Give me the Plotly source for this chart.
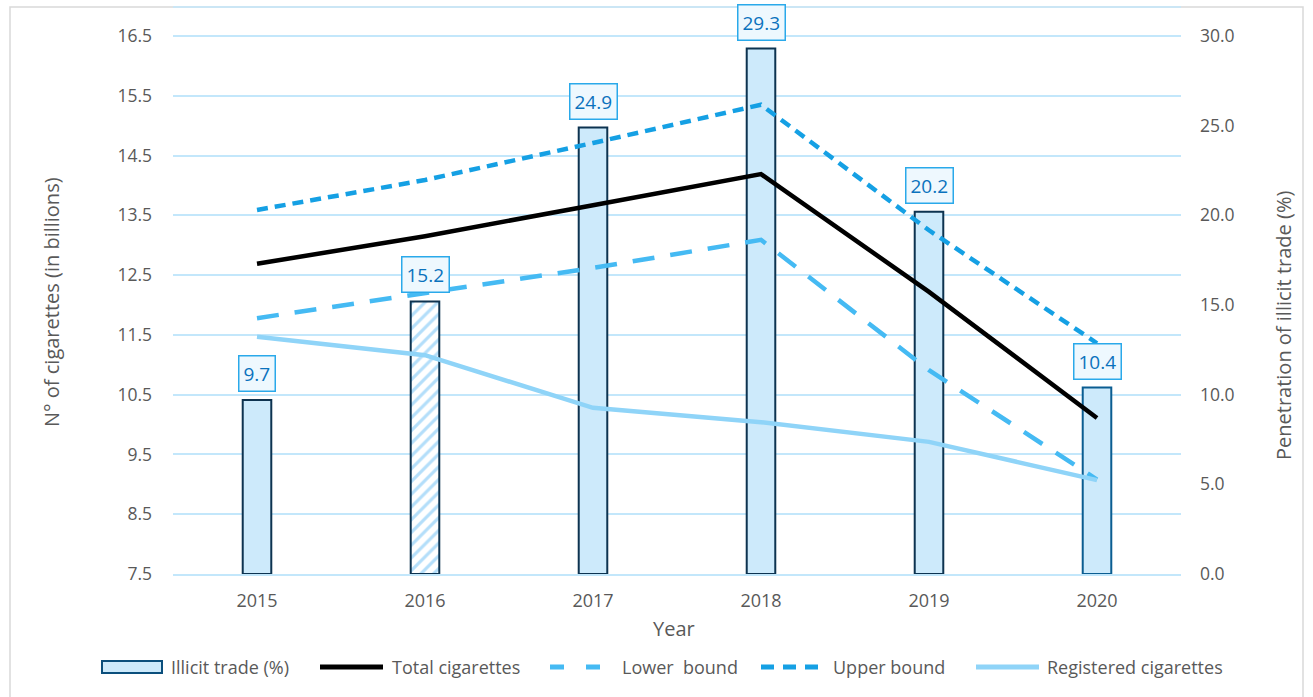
import plotly.graph_objects as go

# Data
years = ["2015", "2016", "2017", "2018", "2019", "2020"]
illicit_pct = [9.7, 15.2, 24.9, 29.3, 20.2, 10.4]
total_cig = [12.69, 13.15, 13.67, 14.19, 12.22, 10.11]
lower_bound = [11.78, 12.20, 12.62, 13.09, 10.91, 9.08]
upper_bound = [13.59, 14.09, 14.71, 15.35, 13.25, 11.36]
registered_cig = [11.47, 11.16, 10.28, 10.04, 9.71, 9.07]
estimated_year = ["2016"]  # bar drawn hatched

left_ticks = [7.5, 8.5, 9.5, 10.5, 11.5, 12.5, 13.5, 14.5, 15.5, 16.5]
right_ticks = [0, 5, 10, 15, 20, 25, 30]

FONT = "Open Sans"
GREY = "#595959"
GRID = "#c3e7fb"
BAR_FILL = "#cdeafb"

# Plot-area geometry in pixels (used for the hand-built legend and titles)
W, H = 1313, 697
L, R, T, B = 173, 132, 7, 123
PW, PH = W - L - R, H - T - B


def px(xp):
    return (xp - L) / PW


def py(yp):
    return (H - B - yp) / PH


fig = go.Figure()

# Illicit-trade bars on the percentage axis (drawn underneath the lines)
solid_vals = [v if y not in estimated_year else None for y, v in zip(years, illicit_pct)]
hatch_vals = [v if y in estimated_year else None for y, v in zip(years, illicit_pct)]
fig.add_trace(go.Bar(
    x=years, y=solid_vals, name="Illicit trade (%)", yaxis="y", width=0.17,
    marker=dict(color=BAR_FILL,
                line=dict(color=["#0d3350"] * 5 + ["#0b5d91"], width=2)),
))
fig.add_trace(go.Bar(
    x=years, y=hatch_vals, name="Illicit trade (%)", yaxis="y", width=0.17,
    marker=dict(color="#b3defa", line=dict(color="#0d3350", width=2),
                pattern=dict(shape="/", bgcolor="#ffffff", size=9, solidity=0.35,
                             fillmode="replace")),
))

line_specs = [
    ("Total cigarettes", total_cig, "#000000", "solid", 4.5),
    ("Lower  bound", lower_bound, "#45baf3", "22px,16px", 4.5),
    ("Upper bound", upper_bound, "#15a0e4", "11px,7px", 4.5),
    ("Registered cigarettes", registered_cig, "#8fd4f8", "solid", 4.5),
]
for name, vals, col, dash, w in line_specs:
    fig.add_trace(go.Scatter(
        x=years, y=vals, name=name, mode="lines", yaxis="y2",
        line=dict(color=col, width=w, dash=dash),
    ))

annotations = []
# Value labels above the bars (category index as x position)
for i, v in enumerate(illicit_pct):
    annotations.append(dict(
        x=i, y=v, xref="x", yref="y", text=f"{v:.1f}", showarrow=False,
        xanchor="center", yanchor="bottom", yshift=8, borderpad=4,
        bordercolor="#2aa9ea", borderwidth=1.5, bgcolor="#eef8fe",
        font=dict(family=FONT, size=19, color="#0a72bd"),
    ))

# Axis titles
annotations.append(dict(x=px(51), y=py(302), xref="paper", yref="paper",
                        xanchor="center", yanchor="middle",
                        text="N° of cigarettes (in billions)", showarrow=False, textangle=-90,
                        font=dict(family=FONT, size=20, color=GREY)))
annotations.append(dict(x=px(1283), y=py(326), xref="paper", yref="paper",
                        xanchor="center", yanchor="middle",
                        text="Penetration of illicit trade (%)", showarrow=False, textangle=-90,
                        font=dict(family=FONT, size=20, color=GREY)))
annotations.append(dict(x=px(674), y=py(628), xref="paper", yref="paper",
                        xanchor="center", yanchor="middle",
                        text="Year", showarrow=False,
                        font=dict(family=FONT, size=20, color=GREY)))

# Legend (symbols + labels) along the bottom
LEG_Y = 667
shapes = [
    dict(type="line", xref="paper", yref="paper", x0=0, x1=1, y0=1, y1=1,
         line=dict(color=GRID, width=1.5)),
    dict(type="rect", xref="paper", yref="paper", x0=px(10), x1=px(1303), y0=py(705), y1=py(7),
         line=dict(color="#d9d9d9", width=1.5), layer="below"),
    dict(type="rect", xref="paper", yref="paper", x0=px(102), x1=px(162),
         y0=py(LEG_Y + 6), y1=py(LEG_Y - 6),
         fillcolor=BAR_FILL, line=dict(color="#0b4f7c", width=2)),
]
legend_items = [
    ("Illicit trade (%)", None, 169),
    ("Total cigarettes", (320, 383, "#000000", "solid", 5), 390),
    ("Lower  bound", (550, 607, "#45baf3", "14px,22px", 5), 620),
    ("Upper bound", (761, 818, "#15a0e4", "13px,9px", 5), 831),
    ("Registered cigarettes", (976, 1039, "#8fd4f8", "solid", 5), 1045),
]
for label, sym, tx in legend_items:
    if sym is not None:
        x0, x1, col, dash, w = sym
        shapes.append(dict(type="line", xref="paper", yref="paper",
                           x0=px(x0), x1=px(x1), y0=py(LEG_Y), y1=py(LEG_Y),
                           line=dict(color=col, width=w, dash=dash)))
    annotations.append(dict(x=px(tx), y=py(LEG_Y), xref="paper", yref="paper",
                            text=label, showarrow=False, xanchor="left", yanchor="middle",
                            font=dict(family=FONT, size=18, color=GREY)))

fig.update_layout(
    width=W, height=H,
    margin=dict(l=L, r=R, t=T, b=B),
    paper_bgcolor="white", plot_bgcolor="white",
    font=dict(family=FONT, size=18, color=GREY),
    barmode="overlay", showlegend=False,
    xaxis=dict(type="category", range=[-0.5, 5.5], showgrid=False,
               showline=True, linecolor=GRID, linewidth=1.5,
               ticks="", tickfont=dict(size=18, color=GREY), ticklabelstandoff=10),
    yaxis=dict(side="right", range=[0, 31.62], tickvals=right_ticks, tickformat=".1f",
               showgrid=False, zeroline=False, ticks="", ticklabelstandoff=18,
               tickfont=dict(size=17.5, color=GREY)),
    yaxis2=dict(side="left", overlaying="y", range=[7.5, 16.985], tickvals=left_ticks,
                tickformat=".1f", showgrid=True, gridcolor=GRID, gridwidth=1.5,
                zeroline=False, ticks="", ticklabelstandoff=20,
                tickfont=dict(size=17.5, color=GREY)),
    annotations=annotations,
    shapes=shapes,
)

fig.write_html("out.html")
